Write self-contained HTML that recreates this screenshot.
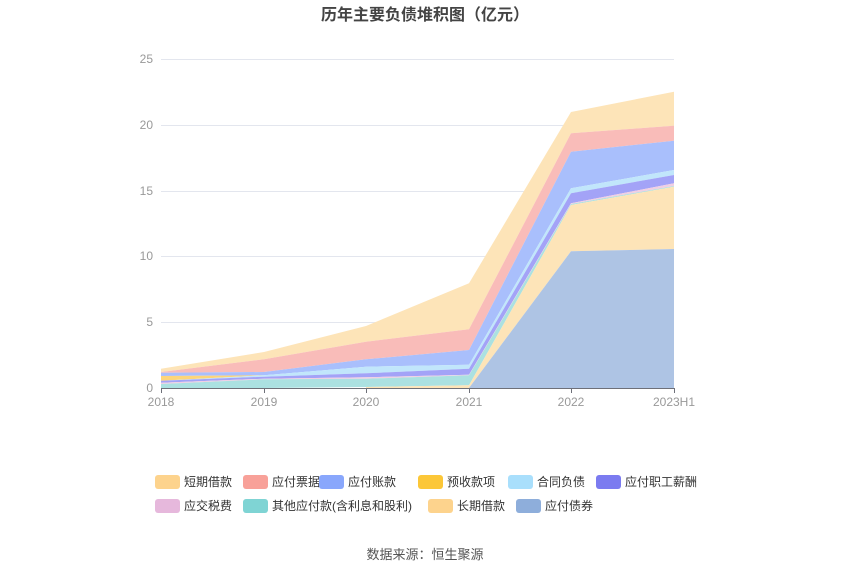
<!DOCTYPE html>
<html><head><meta charset="utf-8"><style>
body{margin:0;background:#fff;font-family:"Liberation Sans","Noto Sans CJK SC",sans-serif}
</style></head><body>
<svg width="850" height="575" xmlns="http://www.w3.org/2000/svg" style="font-family:'Liberation Sans','Noto Sans CJK SC',sans-serif">
<text x="425" y="20" text-anchor="middle" font-size="16" font-weight="bold" fill="#444">历年主要负债堆积图（亿元）</text>
<g stroke="#e3e6ee" stroke-width="1">
<line x1="161" x2="674" y1="59.5" y2="59.5"/><line x1="161" x2="674" y1="125.5" y2="125.5"/>
<line x1="161" x2="674" y1="191.5" y2="191.5"/><line x1="161" x2="674" y1="256.5" y2="256.5"/>
<line x1="161" x2="674" y1="322.5" y2="322.5"/>
</g>
<g font-size="12" fill="#999" text-anchor="end">
<text x="153" y="63">25</text><text x="153" y="129">20</text><text x="153" y="195">15</text>
<text x="153" y="260">10</text><text x="153" y="326">5</text><text x="153" y="392">0</text>
</g>
<g>
<!-- tan 短期借款 -->
<polygon fill="#fde4b8" points="161,368.7 264,352 366,326 469,283.3 571,112 674,91.7 674,125.7 571,133.3 469,329.3 366,341.7 264,359.3 161,372"/>
<polygon fill="#f9bcb9" points="161,372 264,359.3 366,341.7 469,329.3 571,133.3 674,125.7 674,140.7 571,151.7 469,350 366,359.3 264,372 161,372.7"/>
<polygon fill="#a9bffc" points="161,372.7 264,372 366,359.3 469,350 571,151.7 674,140.7 674,170 571,188.3 469,364.7 366,366.7 264,375.3 161,376"/>
<polygon fill="#fdd57a" points="161,376 264,375.3 264,375.3 161,380.7"/>
<polygon fill="#c1e6fb" points="161,380.7 264,375.3 366,366.7 469,364.7 571,188.3 674,170 674,175 571,193.3 469,368.7 366,373.3 264,376.7 161,380.7"/>
<polygon fill="#a3a3f7" points="161,380.7 264,376.7 366,373.3 469,368.7 571,193.3 674,175 674,183.3 571,203.3 469,374.7 366,377.3 264,378.7 161,382.7"/>
<polygon fill="#f0cfe3" points="161,382.7 264,378.7 366,377.3 469,374.7 571,203.3 674,183.3 674,186 571,204 469,375.3 366,378.7 264,379.3 161,384"/>
<polygon fill="#abe1e1" points="161,384 264,379.3 366,378.7 469,375.3 571,204 674,186 674,186.7 571,205 469,385.3 366,387 264,388 161,388"/>
<polygon fill="#fde4b8" points="366,387 469,385.3 571,205 674,186.7 674,249 571,251.3 469,388 366,388"/>
<polygon fill="#aec4e4" points="469,388 571,251.3 674,249 674,388"/>
</g>
<line x1="161" x2="674" y1="388.5" y2="388.5" stroke="#6e7079"/>
<g stroke="#6e7079"><line x1="161.5" x2="161.5" y1="388" y2="393"/><line x1="264.5" x2="264.5" y1="388" y2="393"/><line x1="366.5" x2="366.5" y1="388" y2="393"/><line x1="469.5" x2="469.5" y1="388" y2="393"/><line x1="571.5" x2="571.5" y1="388" y2="393"/><line x1="674.5" x2="674.5" y1="388" y2="393"/></g>
<g font-size="12" fill="#999" text-anchor="middle">
<text x="161" y="406">2018</text><text x="264" y="406">2019</text><text x="366" y="406">2020</text>
<text x="469" y="406">2021</text><text x="571" y="406">2022</text><text x="674" y="406">2023H1</text>
</g>
<g font-size="12" fill="#333">
<rect x="155" y="475" width="25" height="14" rx="3" fill="#fdd38d"/><text x="184" y="486">短期借款</text>
<rect x="243" y="475" width="25" height="14" rx="3" fill="#f8a199"/><text x="272" y="486">应付票据</text>
<rect x="319" y="475" width="25" height="14" rx="3" fill="#89a7fc"/><text x="348" y="486">应付账款</text>
<rect x="418" y="475" width="25" height="14" rx="3" fill="#fcc738"/><text x="447" y="486">预收款项</text>
<rect x="508" y="475" width="25" height="14" rx="3" fill="#a9dffc"/><text x="537" y="486">合同负债</text>
<rect x="596" y="475" width="25" height="14" rx="3" fill="#7b7bf0"/><text x="625" y="486">应付职工薪酬</text>
<rect x="155" y="499" width="25" height="14" rx="3" fill="#e6b8dc"/><text x="184" y="510">应交税费</text>
<rect x="243" y="499" width="25" height="14" rx="3" fill="#7fd4d4"/><text x="272" y="510">其他应付款(含利息和股利)</text>
<rect x="428" y="499" width="25" height="14" rx="3" fill="#fdd38d"/><text x="457" y="510">长期借款</text>
<rect x="516" y="499" width="25" height="14" rx="3" fill="#8eaedb"/><text x="545" y="510">应付债券</text>
</g>
<text x="425" y="559" text-anchor="middle" font-size="13" fill="#555">数据来源：恒生聚源</text>
</svg>
</body></html>
